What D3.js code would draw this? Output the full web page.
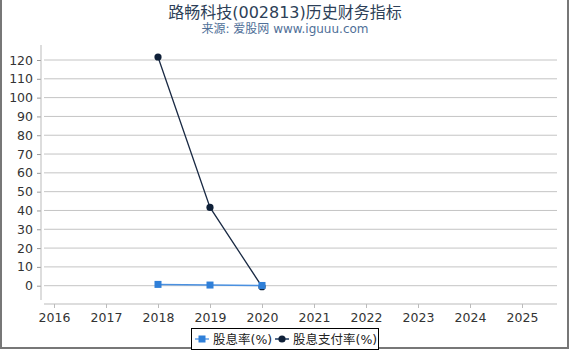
<!DOCTYPE html>
<head>
  <meta charset="utf-8" />
  <script src="https://d3js.org/d3.v7.min.js"></script>
  <style>
    body { margin: 0; background: #fff; }
    text { font-family: "DejaVu Sans", "Noto Sans CJK SC", sans-serif; }
  </style>
</head>
<body>
  <script>
    var width = 570,
      height = 350;

    // data
    var years = [2018, 2019, 2020];
    var dividendYield = [0.69, 0.35, 0.12];     // 股息率(%)
    var payoutRatio = [121.6, 41.6, -0.5];      // 股息支付率(%)
    var xTicks = [2016, 2017, 2018, 2019, 2020, 2021, 2022, 2023, 2024, 2025];
    var yTicks = [0, 10, 20, 30, 40, 50, 60, 70, 80, 90, 100, 110, 120];

    var svg = d3.select("body").append("svg")
      .attr("width", width)
      .attr("height", height);

    // frame
    svg.append("rect")
      .attr("x", 1).attr("y", -2)
      .attr("width", 567).attr("height", 350)
      .attr("fill", "none")
      .attr("stroke", "#777")
      .attr("stroke-width", 2);

    svg.append("text")
      .attr("x", 285).attr("y", 18)
      .attr("text-anchor", "middle")
      .attr("font-size", 16)
      .attr("fill", "#2d3f58")
      .text("路畅科技(002813)历史财务指标");

    svg.append("text")
      .attr("x", 285).attr("y", 33)
      .attr("text-anchor", "middle")
      .attr("font-size", 12)
      .attr("fill", "#4f6f98")
      .text("来源: 爱股网 www.iguuu.com");

    var x = d3.scaleLinear().domain([2016, 2025]).range([54, 522]);
    var y = d3.scaleLinear().domain([0, 120]).range([285.7, 60]);

    // gridlines
    svg.append("g").selectAll("line").data(yTicks).join("line")
      .attr("x1", 44).attr("x2", 557)
      .attr("y1", d => y(d)).attr("y2", d => y(d))
      .attr("stroke", "#c4c4c4");

    // y axis
    var yAxis = svg.append("g")
      .attr("transform", "translate(41,0)")
      .call(d3.axisLeft(y).tickValues(yTicks).tickSize(4).tickPadding(4).tickSizeOuter(0));
    yAxis.select(".domain").remove();
    yAxis.append("line").attr("x1", 0).attr("x2", 0).attr("y1", 45).attr("y2", 300).attr("stroke", "#bbb");
    yAxis.selectAll(".tick line").attr("stroke", "#999");
    yAxis.selectAll(".tick text").attr("font-size", 12.5).attr("fill", "#333")
      .style("font-family", "DejaVu Sans");

    // x axis
    var xAxis = svg.append("g")
      .attr("transform", "translate(0,304)")
      .call(d3.axisBottom(x).tickValues(xTicks).tickFormat(d3.format("d")).tickSize(4).tickPadding(5));
    xAxis.select(".domain").remove();
    xAxis.append("line").attr("x1", 44).attr("x2", 557).attr("y1", 0).attr("y2", 0).attr("stroke", "#bbb");
    xAxis.selectAll(".tick line").attr("stroke", "#bbb");
    xAxis.selectAll(".tick text").attr("font-size", 12.5).attr("fill", "#333")
      .style("font-family", "DejaVu Sans");

    var line = d3.line().x(d => x(d[0])).y(d => y(d[1]));

    var payoutData = years.map((yr, i) => [yr, payoutRatio[i]]);
    var yieldData = years.map((yr, i) => [yr, dividendYield[i]]);

    svg.append("path").datum(payoutData)
      .attr("d", line).attr("fill", "none")
      .attr("stroke", "#1a2a44").attr("stroke-width", 1.3);
    svg.append("g").selectAll("circle").data(payoutData).join("circle")
      .attr("cx", d => x(d[0])).attr("cy", d => y(d[1]))
      .attr("r", 3.6).attr("fill", "#0f2038");

    svg.append("path").datum(yieldData)
      .attr("d", line).attr("fill", "none")
      .attr("stroke", "#4a90e0").attr("stroke-width", 1.5);
    svg.append("g").selectAll("rect").data(yieldData).join("rect")
      .attr("x", d => x(d[0]) - 3.5).attr("y", d => y(d[1]) - 3.5)
      .attr("width", 7).attr("height", 7).attr("fill", "#2f7fd8");

    // legend
    var legend = svg.append("g");
    legend.append("rect")
      .attr("x", 191.5).attr("y", 328.5).attr("width", 187).attr("height", 21)
      .attr("fill", "#fff").attr("stroke", "#000");
    legend.append("line").attr("x1", 195).attr("x2", 209).attr("y1", 339).attr("y2", 339)
      .attr("stroke", "#8ab8ee").attr("stroke-width", 2);
    legend.append("rect").attr("x", 198.5).attr("y", 335.5).attr("width", 7).attr("height", 7)
      .attr("fill", "#2f7fd8");
    legend.append("text").attr("x", 213).attr("y", 344).attr("font-size", 12.5).attr("fill", "#222")
      .text("股息率(%)");
    legend.append("line").attr("x1", 275).attr("x2", 289).attr("y1", 339).attr("y2", 339)
      .attr("stroke", "#556a88").attr("stroke-width", 2);
    legend.append("circle").attr("cx", 282).attr("cy", 339).attr("r", 3.6).attr("fill", "#0f2038");
    legend.append("text").attr("x", 293).attr("y", 344).attr("font-size", 12.5).attr("fill", "#222")
      .text("股息支付率(%)");
  </script>
</body>
